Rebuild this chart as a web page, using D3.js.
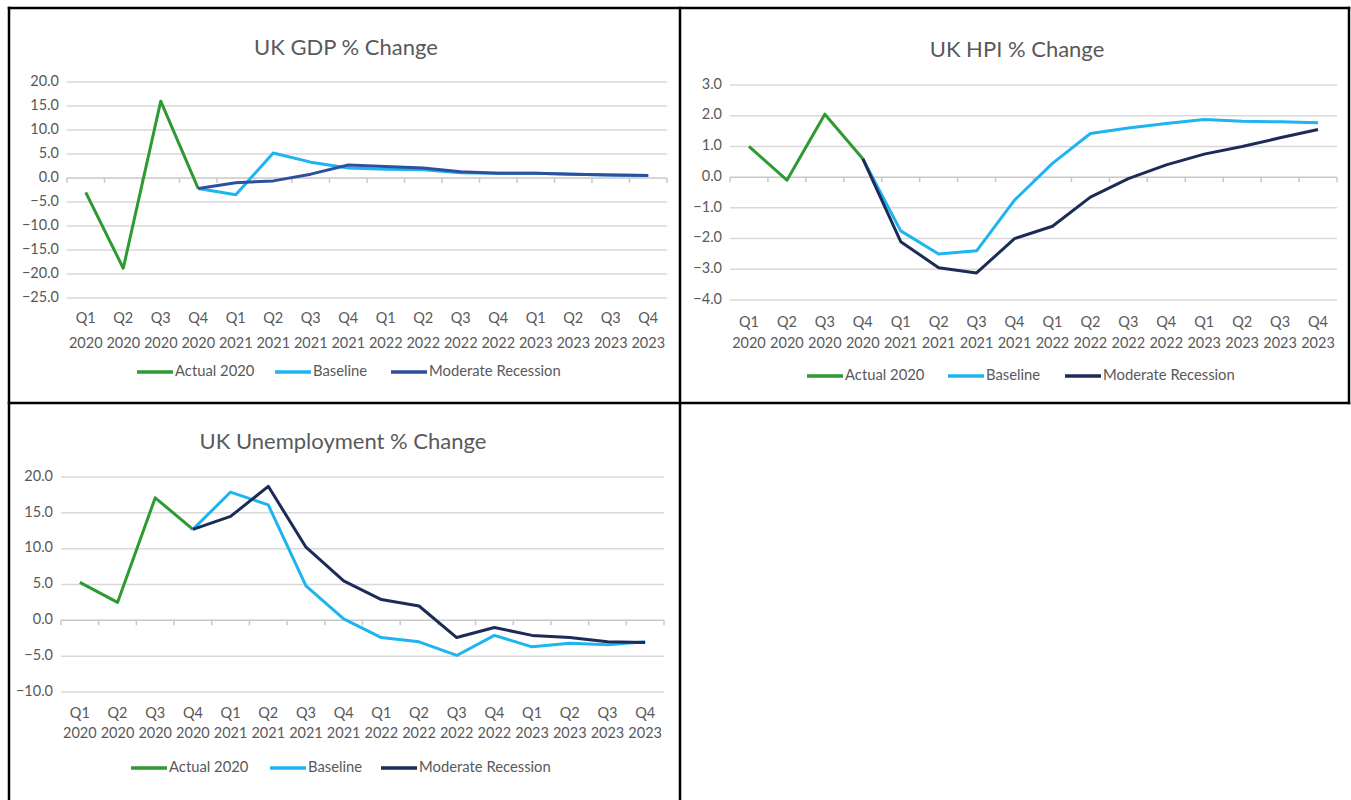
<!DOCTYPE html>
<html>
<head>
<meta charset="utf-8">
<script src="https://cdn.jsdelivr.net/npm/d3@7"></script>
<style>
  body { margin: 0; background: #fff; }
  text { font-family: Lato, "Open Sans", sans-serif; fill: #595959; }
  .tick-label { font-size: 14.5px; }
  .title { font-size: 22px; }
  .legend-text { font-size: 14.8px; }
</style>
</head>
<body>
<svg id="chart"></svg>
<script>
var width = 1351;
var height = 800;

var quarters = ['Q1 2020', 'Q2 2020', 'Q3 2020', 'Q4 2020', 'Q1 2021', 'Q2 2021', 'Q3 2021', 'Q4 2021',
  'Q1 2022', 'Q2 2022', 'Q3 2022', 'Q4 2022', 'Q1 2023', 'Q2 2023', 'Q3 2023', 'Q4 2023'];
var seriesNames = ['Actual 2020', 'Baseline', 'Moderate Recession'];

// GDP
var gdpActual = [-3.0, -18.8, 16.0, -2.2, null, null, null, null, null, null, null, null, null, null, null, null];
var gdpBaseline = [null, null, null, -2.2, -3.5, 5.2, 3.3, 2.1, 1.8, 1.7, 1.1, 1.0, 1.0, 0.8, 0.6, 0.5];
var gdpModerate = [null, null, null, -2.2, -1.0, -0.6, 0.8, 2.7, 2.4, 2.1, 1.3, 1.0, 1.0, 0.8, 0.6, 0.5];
var gdpTicks = [20, 15, 10, 5, 0, -5, -10, -15, -20, -25];

// HPI
var hpiActual = [1.0, -0.1, 2.05, 0.6, null, null, null, null, null, null, null, null, null, null, null, null];
var hpiBaseline = [null, null, null, 0.6, -1.75, -2.5, -2.4, -0.75, 0.45, 1.42, 1.6, 1.75, 1.88, 1.82, 1.8, 1.77];
var hpiModerate = [null, null, null, 0.6, -2.1, -2.95, -3.12, -2.0, -1.6, -0.65, -0.05, 0.4, 0.75, 1.0, 1.28, 1.55];
var hpiTicks = [3, 2, 1, 0, -1, -2, -3, -4];

// Unemployment
var unActual = [5.3, 2.5, 17.1, 12.7, null, null, null, null, null, null, null, null, null, null, null, null];
var unBaseline = [null, null, null, 12.7, 17.9, 16.1, 4.8, 0.2, -2.4, -3.0, -4.9, -2.1, -3.7, -3.2, -3.4, -3.0];
var unModerate = [null, null, null, 12.7, 14.5, 18.7, 10.2, 5.5, 2.9, 2.0, -2.4, -1.0, -2.1, -2.4, -3.0, -3.1];
var unTicks = [20, 15, 10, 5, 0, -5, -10];

var green = '#2e9a32';
var lightBlue = '#1eb4f0';

var svg = d3.select('#chart').attr('width', width).attr('height', height);

// table borders
var borders = [
  [9, 8, 1349, 8],
  [9, 8, 9, 800],
  [680, 8, 680, 800],
  [1349, 8, 1349, 403],
  [9, 403, 1349, 403]
];
svg.selectAll('.border').data(borders).enter().append('line')
  .attr('x1', function(d) { return d[0]; })
  .attr('y1', function(d) { return d[1]; })
  .attr('x2', function(d) { return d[2]; })
  .attr('y2', function(d) { return d[3]; })
  .attr('stroke', '#000')
  .attr('stroke-width', 2.5)
  .attr('stroke-linecap', 'square');

var drawChart = function(opt) {
  var g = svg.append('g');
  var x = d3.scaleBand().domain(quarters).range([opt.left, opt.right]);
  var y = d3.scaleLinear().domain([d3.min(opt.ticks), d3.max(opt.ticks)]).range([opt.bottom, opt.top]);

  g.append('text').classed('title', true)
    .attr('x', opt.titleX).attr('y', opt.titleY)
    .style('text-anchor', 'middle')
    .text(opt.title);

  // gridlines
  g.selectAll('.grid').data(opt.ticks).enter().append('line')
    .attr('x1', opt.left).attr('x2', opt.right)
    .attr('y1', function(d) { return y(d); })
    .attr('y2', function(d) { return y(d); })
    .attr('stroke', function(d) { return d === 0 ? '#c8c8c8' : '#d9d9d9'; })
    .attr('stroke-width', 1.5);

  // y labels
  g.selectAll('.ylab').data(opt.ticks).enter().append('text')
    .classed('tick-label', true)
    .attr('x', opt.left - 8)
    .attr('y', function(d) { return y(d); })
    .style('text-anchor', 'end')
    .style('dominant-baseline', 'middle')
    .text(function(d) { return d3.format('.1f')(d); });

  // category tick marks on zero line
  var bounds = quarters.map(function(q) { return x(q); }).concat([opt.right]);
  g.selectAll('.xtick').data(bounds).enter().append('line')
    .attr('x1', function(d) { return d; }).attr('x2', function(d) { return d; })
    .attr('y1', y(0)).attr('y2', y(0) + 5)
    .attr('stroke', '#c8c8c8').attr('stroke-width', 1.5);

  // x labels (two lines)
  var xl = g.selectAll('.xlab').data(quarters).enter().append('text')
    .classed('tick-label', true)
    .style('text-anchor', 'middle')
    .attr('y', opt.xLabelY);
  xl.append('tspan')
    .attr('x', function(d) { return x(d) + x.bandwidth() / 2; })
    .text(function(d) { return d.split(' ')[0]; });
  xl.append('tspan')
    .attr('x', function(d) { return x(d) + x.bandwidth() / 2; })
    .attr('dy', opt.xLineGap)
    .text(function(d) { return d.split(' ')[1]; });

  var line = d3.line()
    .defined(function(d) { return d !== null; })
    .x(function(d, i) { return x(quarters[i]) + x.bandwidth() / 2; })
    .y(function(d) { return y(d); });

  var series = [
    { name: seriesNames[0], values: opt.actual, color: green },
    { name: seriesNames[1], values: opt.baseline, color: lightBlue },
    { name: seriesNames[2], values: opt.moderate, color: opt.moderateColor }
  ];
  series.forEach(function(s) {
    g.append('path')
      .attr('d', line(s.values))
      .attr('fill', 'none')
      .attr('stroke', s.color)
      .attr('stroke-width', 3)
      .attr('stroke-linejoin', 'round');
  });

  // legend
  series.forEach(function(s, i) {
    var lx = opt.legendX[i];
    g.append('line')
      .attr('x1', lx).attr('x2', lx + 36)
      .attr('y1', opt.legendY).attr('y2', opt.legendY)
      .attr('stroke', s.color).attr('stroke-width', 3.5);
    g.append('text').classed('legend-text', true)
      .attr('x', lx + 38).attr('y', opt.legendY)
      .style('dominant-baseline', 'middle')
      .text(s.name);
  });
};

drawChart({
  title: 'UK GDP % Change', titleX: 346, titleY: 55,
  left: 67, right: 667, top: 82, bottom: 298, ticks: gdpTicks,
  xLabelY: 323, xLineGap: 25,
  actual: gdpActual, baseline: gdpBaseline, moderate: gdpModerate,
  moderateColor: '#2e4f9e',
  legendX: [137, 275, 391], legendY: 372
});

drawChart({
  title: 'UK HPI % Change', titleX: 1017, titleY: 57,
  left: 730, right: 1337, top: 85, bottom: 300, ticks: hpiTicks,
  xLabelY: 327, xLineGap: 21,
  actual: hpiActual, baseline: hpiBaseline, moderate: hpiModerate,
  moderateColor: '#1c2b57',
  legendX: [807, 948, 1065], legendY: 376
});

drawChart({
  title: 'UK Unemployment % Change', titleX: 343, titleY: 449,
  left: 61, right: 664, top: 477, bottom: 692, ticks: unTicks,
  xLabelY: 718, xLineGap: 20,
  actual: unActual, baseline: unBaseline, moderate: unModerate,
  moderateColor: '#1c2b57',
  legendX: [131, 270, 381], legendY: 768
});
</script>
</body>
</html>
